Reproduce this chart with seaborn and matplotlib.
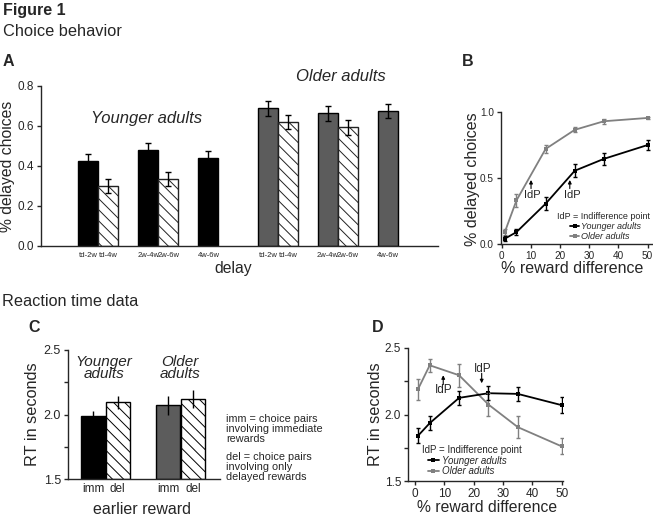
import numpy as np
import pandas as pd
import matplotlib
matplotlib.use('Agg')
import matplotlib.pyplot as plt
import seaborn as sns

# --- data ---
delay_labels = ['td-2w', 'td-4w', '2w-4w', '2w-6w', '4w-6w']
young_a = [0.425, 0.30, 0.48, 0.335, 0.44]
young_a_err = [0.035, 0.035, 0.035, 0.035, 0.036]
old_a = [0.688, 0.618, 0.663, 0.593, 0.675]
old_a_err = [0.036, 0.035, 0.036, 0.036, 0.037]
hatched = [False, True, False, True, False]

diff_pct = [1, 5, 15, 25, 35, 50]
young_b = [0.04, 0.09, 0.305, 0.555, 0.645, 0.75]
young_b_err = [0.02, 0.025, 0.05, 0.05, 0.048, 0.035]
old_b = [0.09, 0.33, 0.72, 0.865, 0.93, 0.955]
old_b_err = [0.02, 0.047, 0.03, 0.02, 0.02, 0.01]

reward_labels = ['imm', 'del']
rt_young = [1.99, 2.095]
rt_young_err = [0.04, 0.05]
rt_old = [2.07, 2.12]
rt_old_err = [0.07, 0.07]

rt_young_d = [1.84, 1.935, 2.125, 2.16, 2.155, 2.07]
rt_young_d_err = [0.055, 0.05, 0.055, 0.053, 0.05, 0.06]
rt_old_d = [2.19, 2.37, 2.295, 2.075, 1.905, 1.76]
rt_old_d_err = [0.08, 0.05, 0.085, 0.088, 0.08, 0.06]

BLACK = '#000000'
DARK = '#5c5c5c'
GRAY = '#808080'

sns.set_style('ticks')
plt.rcParams['font.family'] = ['Liberation Sans', 'DejaVu Sans']
plt.rcParams['hatch.linewidth'] = 0.7
plt.rcParams['axes.linewidth'] = 1.0

W, H = 653, 516
fig = plt.figure(figsize=(W / 100, H / 100), dpi=100)


def px_axes(x0, y0, x1, y1):
    # axes from pixel box (left, top, right, bottom)
    return fig.add_axes([x0 / W, 1 - y1 / H, (x1 - x0) / W, (y1 - y0) / H])


def fig_text(x, y, s, **kw):
    fig.text(x / W, 1 - y / H, s, va='center', ha='left', **kw)


def style_ax(ax, fs):
    sns.despine(ax=ax)
    ax.tick_params(direction='out', length=3, width=1, labelsize=fs, pad=2)
    ax.tick_params(which='minor', direction='out', length=3, width=1)


# --- titles / panel letters ---
fig_text(3, 11, 'Figure 1', fontsize=11.5, fontweight='bold')
fig_text(3, 32, 'Choice behavior', fontsize=11.8)
fig_text(3, 62, 'A', fontsize=11.5, fontweight='bold')
fig_text(462, 61, 'B', fontsize=11.5, fontweight='bold')
fig_text(2, 301, 'Reaction time data', fontsize=11.7)
fig_text(28, 328, 'C', fontsize=11.5, fontweight='bold')
fig_text(372, 328, 'D', fontsize=11.5, fontweight='bold')

# --- panel A ---
axA = px_axes(41, 86, 438, 246)
slots = np.array([0, 1, 3, 4, 6])
for offset, vals, errs, col in [(2.375, young_a, young_a_err, BLACK),
                                (11.35, old_a, old_a_err, DARK)]:
    xs = offset + slots
    for x, v, e, h in zip(xs, vals, errs, hatched):
        if h:
            axA.bar(x, v, width=1.0, color='white', edgecolor='#222222',
                    hatch='\\\\\\', linewidth=1.0)
        else:
            axA.bar(x, v, width=1.0, color=col, edgecolor='black', linewidth=1.0)
    axA.errorbar(xs, vals, yerr=errs, fmt='none', ecolor='black',
                 elinewidth=1.0, capsize=2, capthick=1.0)
axA.set_xlim(0, 19.85)
axA.set_ylim(0, 0.8)
axA.set_yticks([0.0, 0.2, 0.4, 0.6, 0.8])
axA.set_yticklabels(['0.0', '0.2', '0.4', '0.6', '0.8'])
axA.set_xticks(list(2.375 + slots) + list(11.35 + slots))
axA.set_xticklabels(delay_labels * 2)
style_ax(axA, 8.5)
axA.tick_params(axis='x', length=0, labelsize=5.5, pad=4)
axA.set_ylabel('% delayed choices', fontsize=11.3)
axA.yaxis.set_label_coords(-0.065, 0.5)
axA.set_xlabel('delay', fontsize=11.3)
axA.xaxis.set_label_coords(0.484, -0.095)
axA.text(5.3, 0.64, 'Younger adults', fontsize=12, style='italic',
         ha='center', va='center')
axA.text(15.0, 0.847, 'Older adults', fontsize=12, style='italic',
         ha='center', va='center', clip_on=False)


def curve_panel(ax, young, young_err, old, old_err):
    sns.lineplot(x=diff_pct, y=old, color=GRAY, marker='s', markersize=3.5,
                 markeredgewidth=0, linewidth=1.3, ax=ax, label='Older adults')
    sns.lineplot(x=diff_pct, y=young, color=BLACK, marker='s', markersize=3.5,
                 markeredgewidth=0, linewidth=1.3, ax=ax, label='Younger adults')
    handles, labels = ax.get_legend_handles_labels()
    ax.errorbar(diff_pct, old, yerr=old_err, fmt='none', ecolor=GRAY,
                elinewidth=1.0, capsize=1.2, label='_nolegend_')
    ax.errorbar(diff_pct, young, yerr=young_err, fmt='none', ecolor=BLACK,
                elinewidth=1.0, capsize=1.2, label='_nolegend_')
    return handles[::-1], labels[::-1]


arrow = dict(arrowstyle='-|>', lw=0.8, color='black', mutation_scale=5,
             shrinkA=0, shrinkB=0)

# --- panel B ---
axB = px_axes(501, 112, 652, 244)
hB, lB = curve_panel(axB, young_b, young_b_err, old_b, old_b_err)
axB.set_xlim(-0.3, 51.5)
axB.set_ylim(0, 1.0)
axB.set_yticks([0.0, 0.5, 1.0])
axB.set_yticklabels(['0.0', '0.5', '1.0'])
axB.set_xticks([0, 10, 20, 30, 40, 50])
style_ax(axB, 7.2)
axB.set_ylabel('% delayed choices', fontsize=11.5)
axB.yaxis.set_label_coords(-0.14, 0.49)
axB.set_xlabel('% reward difference', fontsize=11.5)
axB.xaxis.set_label_coords(0.47, -0.13)
axB.annotate('', xy=(10, 0.485), xytext=(10, 0.42), arrowprops=arrow)
axB.text(10.3, 0.375, 'IdP', fontsize=8, ha='center', va='center')
axB.annotate('', xy=(23.3, 0.485), xytext=(23.3, 0.42), arrowprops=arrow)
axB.text(24.0, 0.375, 'IdP', fontsize=8, ha='center', va='center')
axB.text(19.0, 0.205, 'IdP = Indifference point', fontsize=6.5,
         ha='left', va='center')
axB.legend(hB, lB, loc='upper left', bbox_to_anchor=(0.46, 0.165),
           frameon=False, handlelength=0.9, handletextpad=0.3,
           labelspacing=0.05, borderpad=0, borderaxespad=0,
           prop={'style': 'italic', 'size': 6.5})

# --- panel C ---
axC = px_axes(68, 350, 220, 479)
pos_c = [1.0, 2.0, 4.05, 5.07]
for x, v, fill, h in [(pos_c[0], rt_young[0], BLACK, False),
                      (pos_c[1], rt_young[1], 'white', True),
                      (pos_c[2], rt_old[0], DARK, False),
                      (pos_c[3], rt_old[1], 'white', True)]:
    axC.bar(x, v - 1.5, bottom=1.5, width=1.0, color=fill, edgecolor='black',
            hatch='\\\\\\' if h else None, linewidth=1.0)
axC.errorbar(pos_c, rt_young + rt_old, yerr=rt_young_err + rt_old_err,
             fmt='none', ecolor='black', elinewidth=1.0, capsize=0)
axC.set_xlim(-0.03, 6.17)
axC.set_ylim(1.5, 2.5)
axC.set_yticks([1.5, 2.0, 2.5])
axC.set_yticklabels(['1.5', '2.0', '2.5'])
axC.set_yticks([1.75, 2.25], minor=True)
axC.set_xticks(pos_c)
axC.set_xticklabels(reward_labels * 2)
style_ax(axC, 9)
axC.tick_params(axis='x', length=0, labelsize=8.5, pad=3)
axC.set_ylabel('RT in seconds', fontsize=11.7)
axC.yaxis.set_label_coords(-0.184, 0.5)
axC.set_xlabel('earlier reward', fontsize=11.5)
axC.xaxis.set_label_coords(0.49, -0.175)
axC.text(1.45, 2.36, 'Younger\nadults', fontsize=11, style='italic',
         ha='center', va='center', linespacing=0.85)
axC.text(4.55, 2.36, 'Older\nadults', fontsize=11, style='italic',
         ha='center', va='center', linespacing=0.85)
fig_text(226, 429.5, 'imm = choice pairs\ninvolving immediate\nrewards',
         fontsize=7.8, linespacing=1.0)
fig_text(226, 467, 'del = choice pairs\ninvolving only\ndelayed rewards',
         fontsize=7.8, linespacing=1.0)

# --- panel D ---
axD = px_axes(408, 348, 563, 481)
hD, lD = curve_panel(axD, rt_young_d, rt_young_d_err, rt_old_d, rt_old_d_err)
axD.set_xlim(-2.4, 50.4)
axD.set_ylim(1.5, 2.5)
axD.set_yticks([1.5, 2.0, 2.5])
axD.set_yticklabels(['1.5', '2.0', '2.5'])
axD.set_yticks([1.75, 2.25], minor=True)
axD.set_xticks([0, 10, 20, 30, 40, 50])
style_ax(axD, 8.5)
axD.set_ylabel('RT in seconds', fontsize=11.7)
axD.yaxis.set_label_coords(-0.16, 0.5)
axD.set_xlabel('% reward difference', fontsize=11.3)
axD.xaxis.set_label_coords(0.51, -0.14)
axD.annotate('', xy=(9.6, 2.295), xytext=(9.6, 2.225), arrowprops=arrow)
axD.text(9.6, 2.185, 'IdP', fontsize=8.5, ha='center', va='center')
axD.annotate('', xy=(22.7, 2.235), xytext=(22.7, 2.31), arrowprops=arrow)
axD.text(23.0, 2.345, 'IdP', fontsize=8.5, ha='center', va='center')
axD.text(2.3, 1.73, 'IdP = Indifference point', fontsize=7,
         ha='left', va='center')
axD.legend(hD, lD, loc='upper left', bbox_to_anchor=(0.13, 0.19),
           frameon=False, handlelength=1.1, handletextpad=0.3,
           labelspacing=0.05, borderpad=0, borderaxespad=0,
           prop={'style': 'italic', 'size': 7})

fig.savefig('out.png', dpi=100)
